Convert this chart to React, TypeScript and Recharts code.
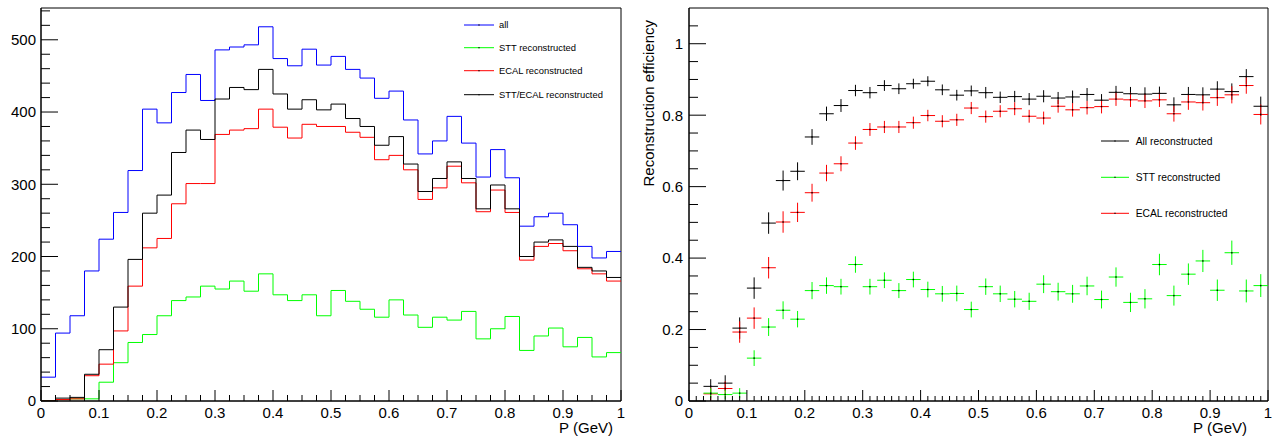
import React from 'react';
import {
  LineChart,
  Line,
  ScatterChart,
  Scatter,
  ErrorBar,
  XAxis,
  YAxis,
  ReferenceArea,
  Legend,
} from 'recharts';

const FONT = '"Liberation Sans", Arial, Helvetica, sans-serif';

// histogram bin edges in P (GeV)
const pEdges = [
  0, 0.025, 0.05, 0.075, 0.1, 0.125, 0.15, 0.175, 0.2, 0.225, 0.25, 0.275, 0.3, 0.325,
  0.35, 0.375, 0.4, 0.425, 0.45, 0.475, 0.5, 0.525, 0.55, 0.575, 0.6, 0.625, 0.65, 0.675,
  0.7, 0.725, 0.75, 0.775, 0.8, 0.825, 0.85, 0.875, 0.9, 0.925, 0.95, 0.975, 1,
];

// counts per bin (left panel)
const allCounts = [
  33, 94, 118, 180, 224, 261, 319, 404, 385, 427, 452, 416, 486, 490, 493, 518, 474, 464, 487, 465,
  477, 459, 447, 419, 429, 389, 342, 360, 394, 357, 310, 348, 309, 242, 255, 260, 244, 214, 198, 207,
];
const sttCounts = [
  0, 2, 3, 3, 26, 53, 81, 92, 118, 139, 144, 159, 155, 166, 152, 176, 147, 139, 147, 118,
  153, 138, 127, 116, 140, 119, 102, 116, 112, 124, 86, 100, 117, 70, 90, 101, 75, 88, 61, 67,
];
const ecalCounts = [
  0, 2, 3, 35, 51, 97, 159, 212, 225, 273, 301, 301, 369, 375, 377, 404, 379, 364, 383, 380,
  380, 372, 365, 334, 340, 320, 279, 295, 325, 302, 262, 292, 261, 195, 214, 218, 208, 183, 176, 166,
];
const bothCounts = [
  0, 4, 5, 37, 71, 130, 196, 260, 285, 344, 375, 362, 418, 434, 431, 459, 425, 404, 417, 403,
  411, 391, 380, 354, 366, 328, 290, 308, 331, 308, 266, 299, 266, 200, 220, 223, 214, 185, 180, 171,
];

// efficiency points (right panel), bin centres
const pCenters = [
  0.0375, 0.0625, 0.0875, 0.1125, 0.1375, 0.1625, 0.1875, 0.2125, 0.2375, 0.2625, 0.2875,
  0.3125, 0.3375, 0.3625, 0.3875, 0.4125, 0.4375, 0.4625, 0.4875, 0.5125, 0.5375, 0.5625,
  0.5875, 0.6125, 0.6375, 0.6625, 0.6875, 0.7125, 0.7375, 0.7625, 0.7875, 0.8125, 0.8375,
  0.8625, 0.8875, 0.9125, 0.9375, 0.9625, 0.9875,
];
const halfBin = 0.0125;

const allEff = [
  0.041, 0.05, 0.204, 0.316, 0.498, 0.617, 0.643, 0.739, 0.804, 0.827, 0.869, 0.863, 0.883,
  0.874, 0.888, 0.895, 0.871, 0.856, 0.868, 0.863, 0.85, 0.852, 0.845, 0.853, 0.848, 0.851,
  0.858, 0.842, 0.864, 0.86, 0.859, 0.861, 0.829, 0.858, 0.857, 0.873, 0.866, 0.908, 0.825,
];
const allErr = [
  0.02, 0.022, 0.03, 0.03, 0.03, 0.028, 0.025, 0.022, 0.02, 0.018, 0.016, 0.016, 0.015,
  0.015, 0.014, 0.014, 0.015, 0.015, 0.015, 0.016, 0.016, 0.016, 0.017, 0.017, 0.017, 0.018,
  0.018, 0.017, 0.018, 0.019, 0.019, 0.019, 0.021, 0.021, 0.021, 0.022, 0.023, 0.021, 0.027,
];
const sttEff = [
  0.022, 0.018, 0.022, 0.12, 0.207, 0.254, 0.229, 0.309, 0.323, 0.32, 0.382, 0.32, 0.338,
  0.309, 0.34, 0.312, 0.3, 0.301, 0.256, 0.32, 0.3, 0.285, 0.279, 0.327, 0.306, 0.3,
  0.322, 0.284, 0.347, 0.276, 0.286, 0.382, 0.295, 0.355, 0.392, 0.31, 0.415, 0.308, 0.323,
];
const sttErr = [
  0.014, 0.013, 0.014, 0.022, 0.025, 0.025, 0.023, 0.024, 0.023, 0.022, 0.023, 0.022, 0.022,
  0.021, 0.022, 0.022, 0.022, 0.022, 0.022, 0.023, 0.023, 0.023, 0.024, 0.025, 0.025, 0.025,
  0.026, 0.025, 0.027, 0.027, 0.027, 0.03, 0.028, 0.03, 0.031, 0.03, 0.034, 0.032, 0.032,
];
const ecalEff = [
  0.02, 0.035, 0.193, 0.232, 0.373, 0.501, 0.528, 0.583, 0.638, 0.664, 0.722, 0.76, 0.767,
  0.767, 0.779, 0.799, 0.783, 0.787, 0.82, 0.796, 0.811, 0.818, 0.797, 0.792, 0.825, 0.815,
  0.821, 0.824, 0.845, 0.843, 0.84, 0.843, 0.804, 0.837, 0.835, 0.849, 0.857, 0.883, 0.802,
];
const ecalErr = [
  0.018, 0.02, 0.03, 0.03, 0.03, 0.03, 0.027, 0.025, 0.023, 0.021, 0.019, 0.018, 0.017,
  0.017, 0.017, 0.016, 0.017, 0.017, 0.017, 0.017, 0.017, 0.018, 0.018, 0.018, 0.018, 0.019,
  0.019, 0.019, 0.019, 0.02, 0.02, 0.02, 0.022, 0.022, 0.022, 0.023, 0.024, 0.023, 0.028,
];

// axis labels
const leftXMajor = [0, 0.1, 0.2, 0.3, 0.4, 0.5, 0.6, 0.7, 0.8, 0.9, 1];
const xLabels = ['0', '0.1', '0.2', '0.3', '0.4', '0.5', '0.6', '0.7', '0.8', '0.9', '1'];
const leftYMajor = [0, 100, 200, 300, 400, 500];
const leftYLabels = ['0', '100', '200', '300', '400', '500'];
const rightYMajor = [0, 0.2, 0.4, 0.6, 0.8, 1];
const rightYLabels = ['0', '0.2', '0.4', '0.6', '0.8', '1'];

const leftLegendNames = ['all', 'STT reconstructed', 'ECAL reconstructed', 'STT/ECAL reconstructed'];
const leftLegendColors = ['#0000ff', '#00ff00', '#ff0000', '#000000'];
const rightLegendNames = ['All reconstructed', 'STT reconstructed', 'ECAL reconstructed'];
const rightLegendColors = ['#000000', '#00ff00', '#ff0000'];

const makeTicks = (max: number, step: number) => {
  const out: number[] = [];
  for (let i = 0; i * step <= max + 1e-9; i++) out.push(+(i * step).toFixed(4));
  return out;
};

const histRows = pEdges.map((p, i) => {
  const k = Math.min(i, allCounts.length - 1);
  return { p, all: allCounts[k], stt: sttCounts[k], ecal: ecalCounts[k], both: bothCounts[k] };
});

const toPoints = (eff: number[], err: number[]) =>
  pCenters.map((p, i) => ({ p, eff: eff[i], ex: halfBin, ey: err[i] }));

const allPts = toPoints(allEff, allErr);
const sttPts = toPoints(sttEff, sttErr);
const ecalPts = toPoints(ecalEff, ecalErr);

const findLabel = (v: number, majors: number[], labels: string[]) => {
  const idx = majors.findIndex((m) => Math.abs(m - v) < 1e-6);
  return idx >= 0 ? labels[idx] : null;
};

const XTick = (props: any) => {
  const { x, y, payload, majors, labels, majorLen, minorLen } = props;
  const label = findLabel(payload.value, majors, labels);
  return (
    <g>
      <line x1={x} x2={x} y1={y} y2={y - (label !== null ? majorLen : minorLen)} stroke="#000" />
      {label !== null && (
        <text x={x} y={y + 16.5} textAnchor="middle" fontSize={15} fontFamily={FONT} fill="#000">
          {label}
        </text>
      )}
    </g>
  );
};

const YTick = (props: any) => {
  const { x, y, payload, majors, labels, majorLen, minorLen, gap } = props;
  const label = findLabel(payload.value, majors, labels);
  return (
    <g>
      <line x1={x} x2={x + (label !== null ? majorLen : minorLen)} y1={y} y2={y} stroke="#000" />
      {label !== null && (
        <text x={x - gap} y={y} dy="0.36em" textAnchor="end" fontSize={15} fontFamily={FONT} fill="#000">
          {label}
        </text>
      )}
    </g>
  );
};

const XTitle = (props: any) => {
  const { viewBox, inset } = props;
  return (
    <text
      x={viewBox.x + viewBox.width - inset}
      y={viewBox.y + 31.5}
      textAnchor="end"
      fontSize={15}
      fontFamily={FONT}
      fill="#000"
    >
      P (GeV)
    </text>
  );
};

const YTitle = (props: any) => {
  const { viewBox } = props;
  const x = viewBox.x + 14;
  const y = viewBox.y + 12;
  return (
    <text
      x={x}
      y={y}
      transform={`rotate(-90, ${x}, ${y})`}
      textAnchor="end"
      fontSize={15}
      fontFamily={FONT}
      fill="#000"
    >
      Reconstruction efficiency
    </text>
  );
};

const LegendBox = ({ names, colors, rowY, lineX0, lineX1, textX, fontSize, width, height }: any) => (
  <svg width={width} height={height} style={{ display: 'block' }}>
    {names.map((n: string, i: number) => (
      <g key={n}>
        <line x1={lineX0} x2={lineX1} y1={rowY[i]} y2={rowY[i]} stroke={colors[i]} strokeWidth={1} />
        <rect x={(lineX0 + lineX1) / 2 - 0.6} y={rowY[i] - 0.6} width={1.2} height={1.2} fill="#000" />
        <text x={textX} y={rowY[i]} dy="0.35em" fontSize={fontSize} fontFamily={FONT} fill="#000">
          {n}
        </text>
      </g>
    ))}
  </svg>
);

const dotShape = (props: any) => (
  <rect x={props.cx - 0.7} y={props.cy - 0.7} width={1.4} height={1.4} fill="#000" />
);

const HistPanel = () => (
  <LineChart width={640} height={441} data={histRows} margin={{ top: 8, right: 19, bottom: 0, left: 0 }}>
    <XAxis
      dataKey="p"
      type="number"
      domain={[0, 1]}
      ticks={makeTicks(1, 0.025)}
      interval={0}
      height={40}
      tickSize={0}
      tickMargin={0}
      tickLine={false}
      stroke="#000"
      tick={(p: any) => <XTick {...p} majors={leftXMajor} labels={xLabels} majorLen={11} minorLen={6} />}
      label={<XTitle inset={8} />}
    />
    <YAxis
      type="number"
      domain={[0, 544]}
      ticks={makeTicks(540, 20)}
      interval={0}
      width={41}
      tickSize={0}
      tickMargin={0}
      tickLine={false}
      stroke="#000"
      allowDataOverflow
      tick={(p: any) => <YTick {...p} majors={leftYMajor} labels={leftYLabels} majorLen={17} minorLen={9} gap={5} />}
    />
    <ReferenceArea x1={0} x2={1} y1={0} y2={544} fill="none" stroke="#000" strokeWidth={1} />
    <Line type="stepAfter" dataKey="all" stroke="#0000ff" strokeWidth={1} dot={false} isAnimationActive={false} />
    <Line type="stepAfter" dataKey="stt" stroke="#00ff00" strokeWidth={1} dot={false} isAnimationActive={false} />
    <Line type="stepAfter" dataKey="ecal" stroke="#ff0000" strokeWidth={1} dot={false} isAnimationActive={false} />
    <Line type="stepAfter" dataKey="both" stroke="#000000" strokeWidth={1} dot={false} isAnimationActive={false} />
    <Legend
      layout="horizontal"
      verticalAlign="middle"
      align="center"
      wrapperStyle={{ left: 455, top: 15, width: 180, height: 92 }}
      content={() => (
        <LegendBox
          names={leftLegendNames}
          colors={leftLegendColors}
          rowY={[10, 32.7, 55.7, 79.7]}
          lineX0={9}
          lineX1={39}
          textX={44}
          fontSize={9.4}
          width={180}
          height={92}
        />
      )}
    />
  </LineChart>
);

const EffPanel = () => (
  <ScatterChart width={636} height={441} margin={{ top: 8, right: 8, bottom: 0, left: 0 }}>
    <XAxis
      dataKey="p"
      type="number"
      domain={[0, 1]}
      ticks={makeTicks(1, 0.0125)}
      interval={0}
      height={40}
      tickSize={0}
      tickMargin={0}
      tickLine={false}
      stroke="#000"
      tick={(p: any) => <XTick {...p} majors={leftXMajor} labels={xLabels} majorLen={11} minorLen={5} />}
      label={<XTitle inset={21} />}
    />
    <YAxis
      dataKey="eff"
      type="number"
      domain={[0, 1.1]}
      ticks={makeTicks(1.05, 0.05)}
      interval={0}
      width={49}
      tickSize={0}
      tickMargin={0}
      tickLine={false}
      stroke="#000"
      allowDataOverflow
      tick={(p: any) => <YTick {...p} majors={rightYMajor} labels={rightYLabels} majorLen={17} minorLen={9} gap={6} />}
      label={<YTitle />}
    />
    <ReferenceArea x1={0} x2={1} y1={0} y2={1.1} fill="none" stroke="#000" strokeWidth={1} />
    <Scatter name="All reconstructed" data={allPts} fill="#000" shape={dotShape} isAnimationActive={false}>
      <ErrorBar dataKey="ex" direction="x" width={0} stroke="#000" strokeWidth={1} isAnimationActive={false} />
      <ErrorBar dataKey="ey" direction="y" width={0} stroke="#000" strokeWidth={1} isAnimationActive={false} />
    </Scatter>
    <Scatter name="ECAL reconstructed" data={ecalPts} fill="#ff0000" shape={dotShape} isAnimationActive={false}>
      <ErrorBar dataKey="ex" direction="x" width={0} stroke="#ff0000" strokeWidth={1} isAnimationActive={false} />
      <ErrorBar dataKey="ey" direction="y" width={0} stroke="#ff0000" strokeWidth={1} isAnimationActive={false} />
    </Scatter>
    <Scatter name="STT reconstructed" data={sttPts} fill="#00ff00" shape={dotShape} isAnimationActive={false}>
      <ErrorBar dataKey="ex" direction="x" width={0} stroke="#00ff00" strokeWidth={1} isAnimationActive={false} />
      <ErrorBar dataKey="ey" direction="y" width={0} stroke="#00ff00" strokeWidth={1} isAnimationActive={false} />
    </Scatter>
    <Legend
      layout="horizontal"
      verticalAlign="middle"
      align="center"
      wrapperStyle={{ left: 455, top: 125, width: 180, height: 105 }}
      content={() => (
        <LegendBox
          names={rightLegendNames}
          colors={rightLegendColors}
          rowY={[16, 52.3, 88.3]}
          lineX0={6}
          lineX1={34}
          textX={40.7}
          fontSize={10.3}
          width={180}
          height={105}
        />
      )}
    />
  </ScatterChart>
);

export default function App() {
  return (
    <div style={{ position: 'absolute', left: 0, top: 0, width: 1276, height: 441, background: '#fff' }}>
      <div style={{ position: 'absolute', left: 0, top: 0 }}>
        <HistPanel />
      </div>
      <div style={{ position: 'absolute', left: 640, top: 0 }}>
        <EffPanel />
      </div>
    </div>
  );
}
